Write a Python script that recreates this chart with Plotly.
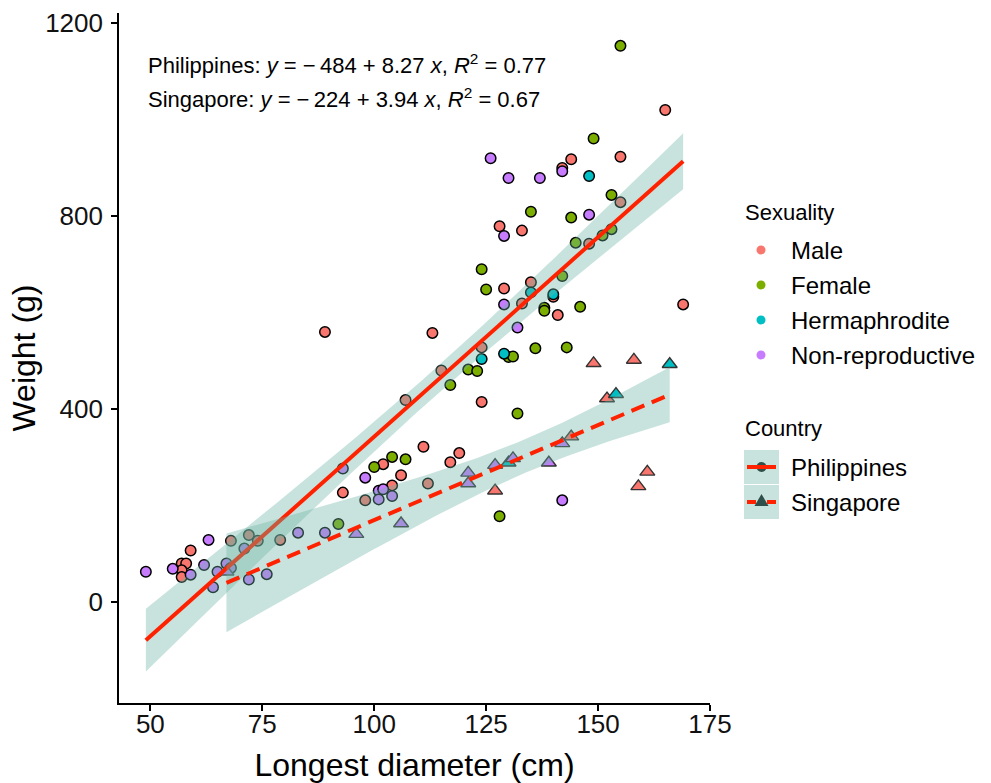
import numpy as np
import plotly.graph_objects as go

# ---------------- data: longest diameter (cm) and weight (g) ----------------
# Philippines specimens (circles)
ph_male_diam = [165, 155, 144, 142, 155, 128, 133, 148, 129, 135, 133, 140, 141, 169, 113, 124, 115, 107, 124, 89,
                111, 119, 117, 102, 106, 104, 93, 112, 98, 57, 58, 57, 57, 59, 68, 72, 74, 79]
ph_male_wt = [1020, 923, 918, 900, 829, 779, 770, 743, 650, 663, 619, 633, 595, 617, 558, 528, 480, 419, 415, 560,
              322, 309, 290, 286, 263, 242, 227, 246, 211, 80, 80, 66, 52, 107, 127, 139, 127, 129]

ph_female_diam = [155, 149, 153, 135, 144, 145, 151, 153, 124, 125, 142, 138, 138, 146, 143, 136, 130, 131, 121, 123,
                  117, 132, 128, 100, 104, 107, 92]
ph_female_wt = [1153, 961, 844, 809, 797, 745, 760, 773, 690, 648, 676, 610, 604, 612, 528, 526, 508, 509, 482, 479,
                450, 391, 178, 280, 301, 296, 162]

ph_herm_diam = [148, 135, 140, 124, 129]
ph_herm_wt = [883, 642, 638, 504, 515]

ph_nonrep_diam = [126, 142, 130, 137, 148, 129, 129, 132, 142, 93, 98, 101, 102, 101, 104, 89, 83, 49, 55, 59,
                  63, 62, 65, 64, 67, 68, 71, 72, 76]
ph_nonrep_wt = [920, 893, 879, 879, 803, 759, 617, 569, 211, 277, 258, 231, 234, 213, 220, 144, 144, 63, 69, 57,
                129, 77, 63, 31, 80, 71, 111, 47, 58]

# Singapore specimens (triangles)
sg_male_diam = [149, 158, 152, 144, 127, 161, 159]
sg_male_wt = [495, 502, 422, 343, 231, 270, 240]

sg_herm_diam = [166, 154, 130]
sg_herm_wt = [493, 431, 289]

sg_nonrep_diam = [142, 139, 131, 127, 121, 121, 106, 96, 67]
sg_nonrep_wt = [329, 289, 298, 284, 268, 246, 163, 141, 63]

# fitted regression lines: intercept, slope, R^2
ph_fit = (-484, 8.27, 0.77)
sg_fit = (-224, 3.94, 0.67)

sex_levels = ["Male", "Female", "Hermaphrodite", "Non-reproductive"]
sex_colors = ["#F8766D", "#7CAE00", "#00BFC4", "#C77CFF"]

x_ticks = [50, 75, 100, 125, 150, 175]
y_ticks = [0, 400, 800, 1200]

philippines = {
    "Male": (ph_male_diam, ph_male_wt),
    "Female": (ph_female_diam, ph_female_wt),
    "Hermaphrodite": (ph_herm_diam, ph_herm_wt),
    "Non-reproductive": (ph_nonrep_diam, ph_nonrep_wt),
}
singapore = {
    "Male": (sg_male_diam, sg_male_wt),
    "Hermaphrodite": (sg_herm_diam, sg_herm_wt),
    "Non-reproductive": (sg_nonrep_diam, sg_nonrep_wt),
}

FONT = "Liberation Sans, Arial, Helvetica, sans-serif"
RIBBON = "rgba(105,179,162,0.37)"
LINE_RED = "#FF2200"
KEY_DARK = "#2E4F4A"


def t975(df):
    """Two-sided 95% Student t quantile (Cornish-Fisher expansion)."""
    z = 1.959963985
    g1 = (z ** 3 + z) / 4
    g2 = (5 * z ** 5 + 16 * z ** 3 + 3 * z) / 96
    g3 = (3 * z ** 7 + 19 * z ** 5 + 17 * z ** 3 - 15 * z) / 384
    g4 = (79 * z ** 9 + 776 * z ** 7 + 1482 * z ** 5 - 1920 * z ** 3 - 945 * z) / 92160
    return z + g1 / df + g2 / df ** 2 + g3 / df ** 3 + g4 / df ** 4


def confidence_band(groups, fit, n_grid=100):
    xs = np.concatenate([np.asarray(v[0], float) for v in groups.values()])
    ys = np.concatenate([np.asarray(v[1], float) for v in groups.values()])
    a, b, _ = fit
    n = len(xs)
    s = np.sqrt(((ys - (a + b * xs)) ** 2).sum() / (n - 2))
    xbar = xs.mean()
    sxx = ((xs - xbar) ** 2).sum()
    grid = np.linspace(xs.min(), xs.max(), n_grid)
    mid = a + b * grid
    hw = t975(n - 2) * s * np.sqrt(1.0 / n + (grid - xbar) ** 2 / sxx)
    return grid, mid, mid - hw, mid + hw


fig = go.Figure()

# points
for sex, col in zip(sex_levels, sex_colors):
    if sex in philippines:
        dx, wy = philippines[sex]
        fig.add_trace(go.Scatter(
            x=dx, y=wy, mode="markers", showlegend=False, hoverinfo="x+y",
            marker=dict(symbol="circle", size=10.5, color=col, line=dict(color="black", width=1.5))))
for sex, col in zip(sex_levels, sex_colors):
    if sex in singapore:
        dx, wy = singapore[sex]
        fig.add_trace(go.Scatter(
            x=dx, y=wy, mode="markers", showlegend=False, hoverinfo="x+y",
            marker=dict(symbol="triangle-up", size=13, color=col, line=dict(color="#333333", width=1.4))))

# smoothers: ribbon then line for each country
for groups, fit, dash in [(philippines, ph_fit, "solid"), (singapore, sg_fit, "14px,8px")]:
    gx, mid, lo, hi = confidence_band(groups, fit)
    fig.add_trace(go.Scatter(
        x=np.concatenate([gx, gx[::-1]]), y=np.concatenate([hi, lo[::-1]]),
        mode="lines", fill="toself", fillcolor=RIBBON, line=dict(width=0),
        hoverinfo="skip", showlegend=False))
    fig.add_trace(go.Scatter(
        x=gx, y=mid, mode="lines", line=dict(color=LINE_RED, width=4, dash=dash),
        hoverinfo="skip", showlegend=False))

# ---- layout geometry (pixels) ----
W, H = 991, 783
PL, PR, PT, PB = 119, 710, 13, 703


def fx(px):
    return (px - PL) / (PR - PL)


def fy(py):
    return (PB - py) / (PB - PT)


def eq_text(name, fit):
    a, b, r2 = fit
    sign = "\u2212\u2009" if a < 0 else ""
    return (f"{name}: <i>y</i> = {sign}{abs(a):.0f} + {b:.2f} <i>x</i>, "
            f"<i>R</i><sup>2</sup> = {r2:.2f}")


annotations = []
shapes = []

for i, (name, fit) in enumerate([("Philippines", ph_fit), ("Singapore", sg_fit)]):
    annotations.append(dict(
        xref="paper", yref="paper", x=fx(146), y=fy(64 + 34 * i), xanchor="left", yanchor="middle",
        text=eq_text(name, fit), showarrow=False, font=dict(family=FONT, size=22, color="black")))

# Sexuality legend
annotations.append(dict(xref="paper", yref="paper", x=fx(743), y=fy(212), xanchor="left", yanchor="middle",
                        text="Sexuality", showarrow=False, font=dict(family=FONT, size=22, color="black")))
for i, (sex, col) in enumerate(zip(sex_levels, sex_colors)):
    yc = 250 + 35 * i
    shapes.append(dict(type="circle", xref="paper", yref="paper", xsizemode="pixel", ysizemode="pixel",
                       xanchor=fx(761), yanchor=fy(yc), x0=-4.5, x1=4.5, y0=-4.5, y1=4.5,
                       fillcolor=col, line=dict(width=0)))
    annotations.append(dict(xref="paper", yref="paper", x=fx(789), y=fy(yc), xanchor="left", yanchor="middle",
                            text=sex, showarrow=False, font=dict(family=FONT, size=24, color="black")))

# Country legend
annotations.append(dict(xref="paper", yref="paper", x=fx(743), y=fy(428), xanchor="left", yanchor="middle",
                        text="Country", showarrow=False, font=dict(family=FONT, size=22, color="black")))
for i, name in enumerate(["Philippines", "Singapore"]):
    top = 450 + 35 * i
    yc = top + 17
    shapes.append(dict(type="rect", xref="paper", yref="paper", x0=fx(744), x1=fx(779), y0=fy(top), y1=fy(top + 34),
                       fillcolor=RIBBON, line=dict(width=0), layer="above"))
    if name == "Philippines":
        shapes.append(dict(type="circle", xref="paper", yref="paper", xsizemode="pixel", ysizemode="pixel",
                           xanchor=fx(761.5), yanchor=fy(yc), x0=-5, x1=5, y0=-5, y1=5,
                           fillcolor=KEY_DARK, line=dict(width=0), layer="above"))
        shapes.append(dict(type="line", xref="paper", yref="paper", x0=fx(747), x1=fx(776), y0=fy(yc), y1=fy(yc),
                           line=dict(color=LINE_RED, width=4), layer="above"))
    else:
        shapes.append(dict(type="path", xref="paper", yref="paper", xsizemode="pixel", ysizemode="pixel",
                           xanchor=fx(761.5), yanchor=fy(yc), path="M -7 -4 L 7 -4 L 0 8 Z",
                           fillcolor=KEY_DARK, line=dict(width=0), layer="above"))
        shapes.append(dict(type="line", xref="paper", yref="paper", x0=fx(747), x1=fx(776), y0=fy(yc), y1=fy(yc),
                           line=dict(color=LINE_RED, width=4, dash="9px,11px"), layer="above"))
    annotations.append(dict(xref="paper", yref="paper", x=fx(789), y=fy(yc), xanchor="left", yanchor="middle",
                            text=name, showarrow=False, font=dict(family=FONT, size=24, color="black")))

axis_common = dict(showline=True, linecolor="black", linewidth=1.6, ticks="outside", ticklen=6, tickwidth=1.6,
                   tickcolor="black", showgrid=False, zeroline=False,
                   tickfont=dict(family=FONT, size=26, color="#111111"))

fig.update_layout(
    width=W, height=H,
    margin=dict(l=PL, r=W - PR, t=PT, b=H - PB, autoexpand=False),
    paper_bgcolor="white", plot_bgcolor="white",
    font=dict(family=FONT, color="black"),
    showlegend=False,
    xaxis=dict(range=[43, 175], tickvals=x_ticks, ticklabelstandoff=-9,
               title=dict(text="Longest diameter (cm)", font=dict(family=FONT, size=32, color="black"), standoff=18),
               **axis_common),
    yaxis=dict(range=[-209, 1221], tickvals=y_ticks, ticklabelstandoff=3,
               title=dict(text="Weight (g)", font=dict(family=FONT, size=32, color="black"), standoff=0),
               **axis_common),
    annotations=annotations,
    shapes=shapes,
)

fig.write_html("out.html")
